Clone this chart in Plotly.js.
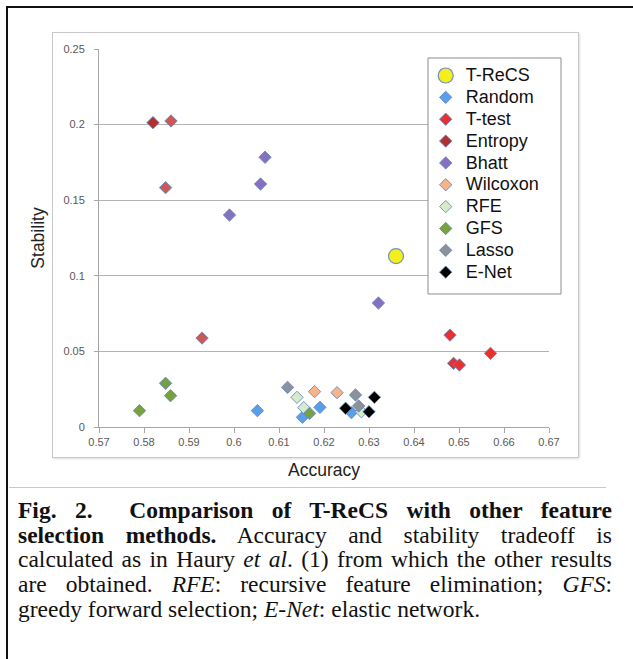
<!DOCTYPE html>
<html>
<head>
<meta charset="utf-8">
<script src="https://cdn.plot.ly/plotly-3.0.1.min.js"></script>
<style>
  html, body { margin: 0; padding: 0; background: #fff; width: 633px; height: 659px; overflow: hidden; }
  #frame { position: absolute; left: 6px; top: 6px; width: 700px; height: 700px; border-left: 2px solid #111; border-top: 2px solid #111; }
  #box { position: absolute; left: 52px; top: 32px; width: 525px; height: 424px; border: 1px solid #c9c9c9; box-shadow: 1px 1px 2px #ddd; }
  #chart { position: absolute; left: 0; top: 0; width: 633px; height: 480px; }
  #sep { position: absolute; left: 9px; top: 487px; width: 597px; height: 0; border-top: 1px solid #c8c8c8; }
  #caption { position: absolute; left: 18px; top: 498px; width: 594px; font-family: "Liberation Serif", "Times New Roman", serif; font-size: 23.5px; color: #111; }
  .ln { height: 24.7px; line-height: 24.7px; white-space: nowrap; text-align: justify; text-align-last: justify; }
  .ln.last { text-align: left; text-align-last: left; }
</style>
</head>
<body>
<div id="frame"></div>
<div id="box"></div>
<div id="chart"></div>
<div id="sep"></div>
<div id="caption">
  <div class="ln"><b>Fig. 2.&nbsp; Comparison of T-ReCS with other feature</b></div>
  <div class="ln"><b>selection methods.</b> Accuracy and stability tradeoff is</div>
  <div class="ln">calculated as in Haury <i>et al</i>. (1) from which the other results</div>
  <div class="ln">are obtained. <i>RFE</i>: recursive feature elimination; <i>GFS</i>:</div>
  <div class="ln last">greedy forward selection; <i>E-Net</i>: elastic network.</div>
</div>
<script>
// ---- data ----
const methods = ["T-ReCS", "Random", "T-test", "Entropy", "Bhatt", "Wilcoxon", "RFE", "GFS", "Lasso", "E-Net"];

const trecsAcc = [0.636];
const trecsStab = [0.113];

const randomAcc = [0.6052, 0.6152, 0.6191, 0.6261];
const randomStab = [0.0108, 0.0064, 0.0130, 0.0095];

const ttestAcc = [0.6480, 0.6488, 0.6501, 0.6570];
const ttestStab = [0.0608, 0.0421, 0.0410, 0.0487];

const entropyAcc = [0.5820, 0.5860, 0.5848, 0.5929];
const entropyStab = [0.2013, 0.2024, 0.1583, 0.0588];

const bhattAcc = [0.6069, 0.6059, 0.5990, 0.6321];
const bhattStab = [0.1784, 0.1607, 0.1402, 0.0820];

const wilcoxonAcc = [0.6179, 0.6229];
const wilcoxonStab = [0.0234, 0.0227];

const rfeAcc = [0.6140, 0.6155, 0.6283];
const rfeStab = [0.0196, 0.0128, 0.0101];

const gfsAcc = [0.5790, 0.5848, 0.5859, 0.6168];
const gfsStab = [0.0108, 0.0289, 0.0207, 0.0090];

const lassoAcc = [0.6119, 0.6270, 0.6277];
const lassoStab = [0.0262, 0.0212, 0.0139];

const enetAcc = [0.6248, 0.6300, 0.6312];
const enetStab = [0.0124, 0.0101, 0.0196];

const xTicks = [0.57, 0.58, 0.59, 0.6, 0.61, 0.62, 0.63, 0.64, 0.65, 0.66, 0.67];
const xTickText = ["0.57", "0.58", "0.59", "0.6", "0.61", "0.62", "0.63", "0.64", "0.65", "0.66", "0.67"];
const yTicks = [0, 0.05, 0.1, 0.15, 0.2, 0.25];
const yTickText = ["0", "0.05", "0.1", "0.15", "0.2", "0.25"];

// ---- styles ----
const outline = { color: "rgba(95,135,195,0.85)", width: 1 };
function legName(n) { return '<span style="font-size:18px">' + n + '</span>'; }
function diamond(name, x, y, color) {
  return { type: "scatter", mode: "markers", name: legName(name), x: x, y: y,
    marker: { symbol: "diamond", size: 9.5, color: color, line: outline } };
}
const traces = [
  { type: "scatter", mode: "markers", name: legName(methods[0]), x: trecsAcc, y: trecsStab,
    marker: { symbol: "circle", size: 15, color: "#f6ee1a", line: { color: "rgba(95,135,195,0.9)", width: 1.2 } } },
  diamond(methods[1], randomAcc, randomStab, "#5a9ee8"),
  diamond(methods[2], ttestAcc, ttestStab, "#ea2f2f"),
  diamond(methods[3], entropyAcc, entropyStab, "#cd5753"),
  diamond(methods[4], bhattAcc, bhattStab, "#8670bf"),
  diamond(methods[5], wilcoxonAcc, wilcoxonStab, "#f6b48a"),
  diamond(methods[6], rfeAcc, rfeStab, "#d6ebc8"),
  diamond(methods[7], gfsAcc, gfsStab, "#77a13e"),
  diamond(methods[8], lassoAcc, lassoStab, "#8b929a"),
  diamond(methods[9], enetAcc, enetStab, "#000000")
];
// darker overlapping point in Entropy series
traces[3].marker.color = ["#b2302d", "#cd5753", "#cd5753", "#cd5753"];

const tickFont = { family: "Liberation Sans, Arial, sans-serif", size: 11, color: "#595959" };
const titleFont = { family: "Liberation Sans, Arial, sans-serif", size: 17.5, color: "#222" };
const layout = {
  width: 633, height: 480,
  margin: { l: 99, r: 84, t: 49, b: 53 },
  paper_bgcolor: "rgba(0,0,0,0)", plot_bgcolor: "rgba(0,0,0,0)",
  showlegend: true,
  legend: {
    x: 0.726, y: 0.972, xanchor: "left", yanchor: "top",
    bgcolor: "rgba(0,0,0,0)", borderwidth: 0,
    font: { family: "Liberation Sans, Arial, sans-serif", size: 14.5, color: "#111" },
    itemsizing: "trace", tracegroupgap: 0
  },
  shapes: [{
    type: "rect", xref: "paper", yref: "paper", layer: "above",
    x0: 0.7311, x1: 1.0267, y0: 0.3519, y1: 0.9762,
    fillcolor: "#ffffff", line: { color: "#8c8c8c", width: 1 }
  }],
  xaxis: {
    range: [0.57, 0.67], tickvals: xTicks, ticktext: xTickText,
    showgrid: false, zeroline: false, showline: true, linecolor: "#a6a6a6", linewidth: 1,
    ticks: "outside", ticklen: 5, tickcolor: "#a6a6a6", tickfont: tickFont,
    title: { text: "Accuracy", font: titleFont, standoff: 16 }
  },
  yaxis: {
    range: [0, 0.25], tickvals: yTicks, ticktext: yTickText,
    showgrid: true, gridcolor: "#b3b3b3", gridwidth: 1, zeroline: false,
    showline: true, linecolor: "#a6a6a6", linewidth: 1,
    ticks: "outside", ticklen: 4, tickcolor: "#a6a6a6", tickfont: tickFont, ticklabelstandoff: 7,
    title: { text: "Stability", font: titleFont, standoff: 14 }
  }
};
Plotly.newPlot("chart", traces, layout, { displayModeBar: false, staticPlot: true });
</script>
</body>
</html>
